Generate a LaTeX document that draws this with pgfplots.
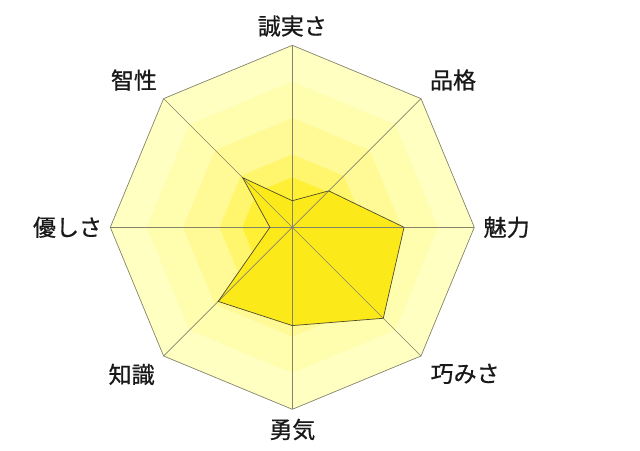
\documentclass[border=0pt]{standalone}
\usepackage{fontspec}
\usepackage{pgfplots}
\pgfplotsset{compat=1.18}
\usepgfplotslibrary{polar}
\newfontfamily\jp[FakeBold=0.7]{Noto Sans CJK JP}

\definecolor{ring1}{HTML}{FFFFC2}
\definecolor{ring2}{HTML}{FFFDAE}
\definecolor{ring3}{HTML}{FFFA96}
\definecolor{ring4}{HTML}{FFF66E}
\definecolor{ring5}{HTML}{FFF036}
\definecolor{datafill}{HTML}{FCE91A}
\definecolor{gridc}{HTML}{85836A}
\definecolor{dataline}{HTML}{4F4C28}

\tikzset{lab/.style={font=\jp\fontsize{23bp}{26bp}\selectfont, text=black!90, anchor=center}}

% angle (deg), score out of 100
\pgfplotstableread{
angle value
90  14.6
45  28.3
0   61.4
315 70.7
270 54.0
225 57.6
180 12.3
135 38.6
90  14.6
}\scores

\begin{document}
\begin{tikzpicture}
\begin{polaraxis}[
    width=364bp, height=364bp, scale only axis,
    xmin=0, xmax=360, ymin=0, ymax=100,
    hide axis, clip=false,
  ]
  % background rings
  \addplot[fill=ring1, draw=none] coordinates {(0,100)(45,100)(90,100)(135,100)(180,100)(225,100)(270,100)(315,100)(0,100)};
  \addplot[fill=ring2, draw=none] coordinates {(0,80)(45,80)(90,80)(135,80)(180,80)(225,80)(270,80)(315,80)(0,80)};
  \addplot[fill=ring3, draw=none] coordinates {(0,60)(45,60)(90,60)(135,60)(180,60)(225,60)(270,60)(315,60)(0,60)};
  \addplot[fill=ring4, draw=none] coordinates {(0,40)(45,40)(90,40)(135,40)(180,40)(225,40)(270,40)(315,40)(0,40)};
  \addplot[fill=ring5, draw=none] coordinates {(0,27.5)(45,27.5)(90,27.5)(135,27.5)(180,27.5)(225,27.5)(270,27.5)(315,27.5)(0,27.5)};

  % data
  \addplot[fill=datafill, draw=none] table[x=angle, y=value] {\scores};

  % grid
  \addplot[gridc, line width=0.7bp] coordinates {(0,100)(45,100)(90,100)(135,100)(180,100)(225,100)(270,100)(315,100)(0,100)};
  \addplot[gridc, line width=0.6bp] coordinates {(0,100)(180,100)};
  \addplot[gridc, line width=0.6bp] coordinates {(45,100)(225,100)};
  \addplot[gridc, line width=0.6bp] coordinates {(90,100)(270,100)};
  \addplot[gridc, line width=0.6bp] coordinates {(135,100)(315,100)};

  \addplot[dataline, line width=0.7bp, line join=miter] table[x=angle, y=value] {\scores};

  \coordinate (O) at (axis cs:0,0);

  \node[lab] at (axis cs:90,110.6) {誠実さ};
  \node[lab] at (axis cs:42.5,119.8) {品格};
  \node[lab] at (axis cs:0,117.8) {魅力};
  \node[lab] at (axis cs:319.7,124.5) {巧みさ};
  \node[lab] at (axis cs:270,111.1) {勇気};
  \node[lab] at (axis cs:222.5,119.7) {知識};
  \node[lab] at (axis cs:180,123.5) {優しさ};
  \node[lab] at (axis cs:137.1,118.8) {智性};
\end{polaraxis}
\path[use as bounding box] (O) ++(-292.3bp,227.3bp) rectangle ++(640bp,-451bp);
\end{tikzpicture}
\end{document}
